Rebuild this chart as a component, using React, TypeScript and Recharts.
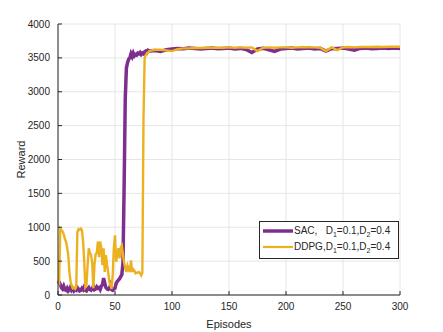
import React from "react";
import {
  LineChart,
  Line,
  XAxis,
  YAxis,
  CartesianGrid,
  Legend,
} from "recharts";

// episodes 0..80 one by one, after that every 5
const episodes = [
  0, 1, 2, 3, 4, 5, 6, 7, 8, 9, 10, 11, 12, 13, 14, 15, 16, 17, 18, 19, 20,
  21, 22, 23, 24, 25, 26, 27, 28, 29, 30, 31, 32, 33, 34, 35, 36, 37, 38, 39, 40,
  41, 42, 43, 44, 45, 46, 47, 48, 49, 50, 51, 52, 53, 54, 55, 56, 57, 58, 59, 60,
  61, 62, 63, 64, 65, 66, 67, 68, 69, 70, 71, 72, 73, 74, 75, 76, 77, 78, 79, 80,
  85, 90, 95, 100, 105, 110, 115, 120, 125, 130, 135, 140, 145, 150, 155, 160,
  165, 170, 175, 180, 185, 190, 195, 200, 205, 210, 215, 220, 225, 230, 235, 240,
  245, 250, 255, 260, 265, 270, 275, 280, 285, 290, 295, 300,
];

const sacReward = [
  170, 190, 160, 110, 90, 130, 80, 70, 100, 60, 80, 120, 70, 90, 60, 80, 70, 110, 90, 60, 70,
  100, 80, 120, 70, 60, 90, 110, 80, 70, 90, 130, 80, 90, 120, 100, 110, 80, 130, 150, 250,
  180, 110, 90, 80, 90, 140, 80, 70, 90, 100, 170, 200, 220, 240, 270, 300, 480, 1600, 2900, 3350,
  3430, 3480, 3500, 3560, 3520, 3570, 3530, 3550, 3540, 3570, 3560, 3580, 3550, 3570, 3560, 3590, 3600, 3580, 3610, 3600,
  3610, 3595, 3620, 3630, 3640, 3635, 3645, 3640, 3630, 3640, 3645, 3635, 3640, 3645, 3630, 3640,
  3625, 3580, 3630, 3640, 3620, 3595, 3630, 3640, 3645, 3630, 3640, 3645, 3630, 3640, 3600, 3635,
  3640, 3645, 3630, 3615, 3640, 3645, 3635, 3640, 3645, 3640, 3645, 3640,
];

const ddpgReward = [
  220, 190, 980, 960, 940, 900, 830, 790, 700, 590, 340, 200, 140, 100, 110, 90, 120, 930, 970, 960, 980,
  960, 790, 490, 120, 150, 450, 690, 620, 590, 480, 100, 450, 600, 620, 790, 560, 790, 690, 440, 690,
  340, 590, 450, 340, 200, 140, 90, 300, 700, 880, 490, 600, 690, 540, 700, 730, 590, 480, 400, 340,
  430, 380, 340, 510, 340, 380, 360, 320, 330, 330, 340, 320, 290, 330, 2600, 3500, 3540, 3570, 3580, 3600,
  3620, 3620, 3610, 3600, 3630, 3640, 3640, 3645, 3645, 3650, 3650, 3650, 3650, 3655, 3650, 3655,
  3650, 3655, 3600, 3650, 3655, 3650, 3655, 3655, 3650, 3655, 3660, 3655, 3655, 3650, 3600, 3655,
  3615, 3655, 3660, 3655, 3660, 3660, 3660, 3665, 3660, 3665, 3665, 3665,
];

const xTicks = [0, 50, 100, 150, 200, 250, 300];
const yTicks = [0, 500, 1000, 1500, 2000, 2500, 3000, 3500, 4000];

const data = episodes.map((ep, i) => ({
  episode: ep,
  sac: sacReward[i],
  ddpg: ddpgReward[i],
}));

const FONT = "'Liberation Sans', Arial, sans-serif";
const AXIS = "#262626";
const PURPLE = "#7E2F8E";
const YELLOW = "#EDB120";

function LegendBox() {
  const row = (color: string, width: number, label: React.ReactNode) => (
    <div style={{ display: "flex", alignItems: "center", height: 16 }}>
      <svg width={34} height={8} style={{ flex: "none" }}>
        <line x1={3} x2={33} y1={4} y2={4} stroke={color} strokeWidth={width} />
      </svg>
      <span style={{ whiteSpace: "pre" }}>{label}</span>
    </div>
  );
  return (
    <div
      style={{
        border: `1px solid ${AXIS}`,
        background: "#fff",
        width: 138,
        height: 34,
        fontFamily: FONT,
        fontSize: 10,
        color: AXIS,
        padding: "1px 0",
        boxSizing: "content-box",
      }}
    >
      {row(PURPLE, 3.5, <>SAC,   D<sub style={{ fontSize: 7 }}>1</sub>=0.1,D<sub style={{ fontSize: 7 }}>2</sub>=0.4</>)}
      {row(YELLOW, 2.2, <>DDPG,D<sub style={{ fontSize: 7 }}>1</sub>=0.1,D<sub style={{ fontSize: 7 }}>2</sub>=0.4</>)}
    </div>
  );
}

export default function App() {
  return (
    <div style={{ position: "fixed", left: 0, top: 0, width: 443, height: 332, background: "#fff" }}>
      <LineChart
        width={443}
        height={332}
        data={data}
        margin={{ top: 24, right: 43, bottom: 7, left: 10 }}
      >
        <CartesianGrid stroke="#e6e6e6" strokeWidth={1} />
        <XAxis
          dataKey="episode"
          type="number"
          domain={[0, 300]}
          ticks={xTicks}
          height={30}
          stroke={AXIS}
          tickSize={-4}
          tickMargin={12}
          tick={{ fill: AXIS, fontSize: 10, fontFamily: FONT }}
          label={{ value: "Episodes", position: "center", dy: 14, fill: AXIS, fontSize: 11, fontFamily: FONT }}
        />
        <YAxis
          type="number"
          domain={[0, 4000]}
          ticks={yTicks}
          width={48}
          stroke={AXIS}
          tickSize={-4}
          tickMargin={12}
          tick={{ fill: AXIS, fontSize: 10, fontFamily: FONT }}
          label={{ value: "Reward", angle: -90, position: "center", dx: -13, fill: AXIS, fontSize: 11, fontFamily: FONT }}
        />
        <Line
          dataKey="sac"
          type="linear"
          stroke={PURPLE}
          strokeWidth={3.5}
          dot={false}
          isAnimationActive={false}
        />
        <Line
          dataKey="ddpg"
          type="linear"
          stroke={YELLOW}
          strokeWidth={2.4}
          dot={false}
          isAnimationActive={false}
        />
        <Legend
          layout="horizontal"
          verticalAlign="middle"
          align="center"
          wrapperStyle={{ left: 259, top: 221, width: 140 }}
          content={() => <LegendBox />}
        />
      </LineChart>
    </div>
  );
}
